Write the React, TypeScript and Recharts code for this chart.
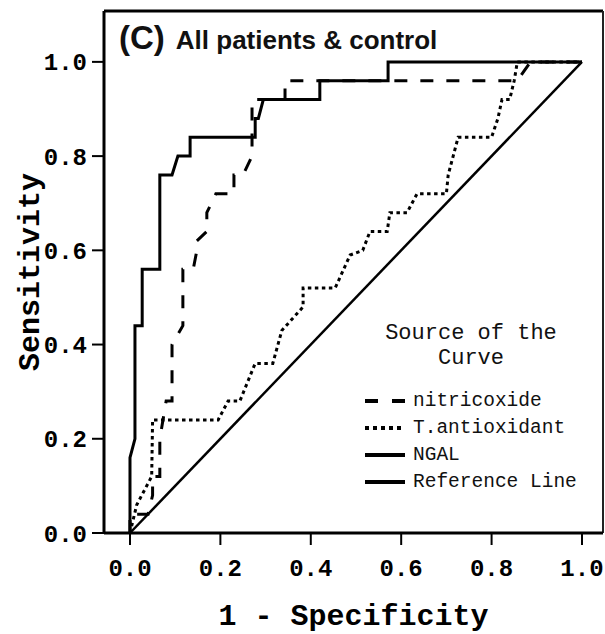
import React from 'react'
import { LineChart, Line, XAxis, YAxis, ReferenceLine } from 'recharts'

// ---------------------------------------------------------------------------
// Data
// ---------------------------------------------------------------------------

const axisTicks = [0, 0.2, 0.4, 0.6, 0.8, 1.0]

const nitricFpr = [0, 0, 0.04, 0.05, 0.05, 0.066, 0.066, 0.08, 0.093, 0.093, 0.117, 0.117, 0.14, 0.148, 0.148, 0.17, 0.17, 0.19, 0.23, 0.23, 0.25, 0.27, 0.27, 0.343, 0.343, 0.857, 0.886, 1]
const nitricTpr = [0, 0.04, 0.04, 0.08, 0.12, 0.12, 0.2, 0.28, 0.28, 0.4, 0.44, 0.56, 0.56, 0.6, 0.62, 0.64, 0.68, 0.72, 0.72, 0.76, 0.76, 0.8, 0.92, 0.92, 0.96, 0.96, 1, 1]

const antioxFpr = [0, 0.015, 0.048, 0.05, 0.062, 0.195, 0.217, 0.243, 0.26, 0.277, 0.316, 0.336, 0.383, 0.383, 0.454, 0.487, 0.515, 0.531, 0.569, 0.575, 0.613, 0.635, 0.7, 0.704, 0.726, 0.8, 0.814, 0.823, 0.84, 0.85, 0.857, 1]
const antioxTpr = [0, 0.06, 0.12, 0.24, 0.24, 0.24, 0.28, 0.28, 0.32, 0.36, 0.36, 0.43, 0.48, 0.52, 0.52, 0.59, 0.6, 0.64, 0.64, 0.68, 0.68, 0.72, 0.72, 0.76, 0.84, 0.84, 0.88, 0.92, 0.92, 0.96, 1, 1]

const ngalFpr = [0, 0, 0.011, 0.011, 0.027, 0.027, 0.066, 0.066, 0.093, 0.106, 0.133, 0.133, 0.277, 0.277, 0.284, 0.295, 0.42, 0.42, 0.571, 0.571, 1]
const ngalTpr = [0, 0.16, 0.2, 0.44, 0.44, 0.56, 0.56, 0.76, 0.76, 0.8, 0.8, 0.84, 0.84, 0.88, 0.88, 0.92, 0.92, 0.96, 0.96, 1, 1]

const refFpr = [0, 1]
const refTpr = [0, 1]

const seriesNames = ['nitricoxide', 'T.antioxidant', 'NGAL', 'Reference Line']

const toPoints = (xs: number[], ys: number[]) => xs.map((x, i) => ({ x, y: ys[i] }))

// ---------------------------------------------------------------------------
// Styles
// ---------------------------------------------------------------------------

const MONO = '"Liberation Mono", "Courier New", monospace'
const SANS = '"Liberation Sans", Arial, sans-serif'

// axis ranges chosen so the frame sits where the SPSS frame does
const X_MIN = -0.0575
const X_MAX = 1.0465
const Y_MAX = 1.108

const lineStyles = [
  { width: 3, dash: '13 13', legendDash: '13 14' },
  { width: 3, dash: '3.5 3.5', legendDash: '4 4' },
  { width: 3, dash: undefined, legendDash: undefined },
  { width: 2.5, dash: undefined, legendDash: undefined },
]

const tickStyle = { fontFamily: MONO, fontSize: 24, fontWeight: 'bold', fill: '#000' }
const axisTitleStyle = { fontFamily: MONO, fontSize: 30, fontWeight: 'bold', fill: '#000', textAnchor: 'middle' as const }

const fmt = (v: number) => v.toFixed(1)

function ChartTitle() {
  return (
    <text x={119} y={49} fill="#111" fontFamily={SANS} fontWeight="bold">
      <tspan fontSize={33}>(C)</tspan>
      <tspan fontSize={26} dx={11}>All patients &amp; control</tspan>
    </text>
  )
}

function CurveLegend() {
  return (
    <div style={{ position: 'absolute', left: 360, top: 321, width: 222, fontFamily: MONO, color: '#111' }}>
      <div style={{ textAlign: 'center', fontSize: 22, lineHeight: '25px' }}>
        Source of the
        <br />
        Curve
      </div>
      <div style={{ marginTop: 16 }}>
        {seriesNames.map((name, i) => (
          <div key={name} style={{ display: 'flex', alignItems: 'center', height: 27 }}>
            <svg width={53} height={10} style={{ flex: 'none' }}>
              <line
                x1={5}
                x2={45}
                y1={5}
                y2={5}
                stroke="#000"
                strokeWidth={4}
                strokeDasharray={lineStyles[i].legendDash}
              />
            </svg>
            <span style={{ fontSize: 19.5, whiteSpace: 'pre' }}>{name}</span>
          </div>
        ))}
      </div>
    </div>
  )
}

export default function App() {
  const series = [
    toPoints(nitricFpr, nitricTpr),
    toPoints(antioxFpr, antioxTpr),
    toPoints(ngalFpr, ngalTpr),
    toPoints(refFpr, refTpr),
  ]

  return (
    <div style={{ position: 'absolute', left: 0, top: 0, width: 605, height: 634, background: '#fff' }}>
      <LineChart width={605} height={634} margin={{ top: 11, right: 2, bottom: 0, left: 0 }}>
        <XAxis
          dataKey="x"
          type="number"
          domain={[X_MIN, X_MAX]}
          ticks={axisTicks}
          tickFormatter={fmt}
          height={101}
          tickSize={12}
          tickMargin={14}
          tick={tickStyle}
          axisLine={{ stroke: '#000', strokeWidth: 3 }}
          tickLine={{ stroke: '#000', strokeWidth: 2 }}
          label={{ value: '1 - Specificity', position: 'insideBottom', offset: 9, style: axisTitleStyle }}
        />
        <YAxis
          type="number"
          domain={[0, Y_MAX]}
          ticks={axisTicks}
          tickFormatter={fmt}
          width={104}
          tickSize={12}
          tickMargin={5}
          tick={tickStyle}
          axisLine={{ stroke: '#000', strokeWidth: 3 }}
          tickLine={{ stroke: '#000', strokeWidth: 2 }}
          label={{ value: 'Sensitivity', angle: -90, position: 'insideLeft', offset: 28, style: axisTitleStyle }}
        />
        {/* frame: top and right edges */}
        <ReferenceLine y={Y_MAX} stroke="#000" strokeWidth={3} label={<ChartTitle />} />
        <ReferenceLine x={X_MAX} stroke="#222" strokeWidth={2} />
        {series.map((pts, i) => (
          <Line
            key={seriesNames[i]}
            name={seriesNames[i]}
            data={pts}
            dataKey="y"
            type="linear"
            stroke="#000"
            strokeWidth={lineStyles[i].width}
            strokeDasharray={lineStyles[i].dash}
            dot={false}
            activeDot={false}
            isAnimationActive={false}
          />
        ))}
      </LineChart>
      <CurveLegend />
    </div>
  )
}
